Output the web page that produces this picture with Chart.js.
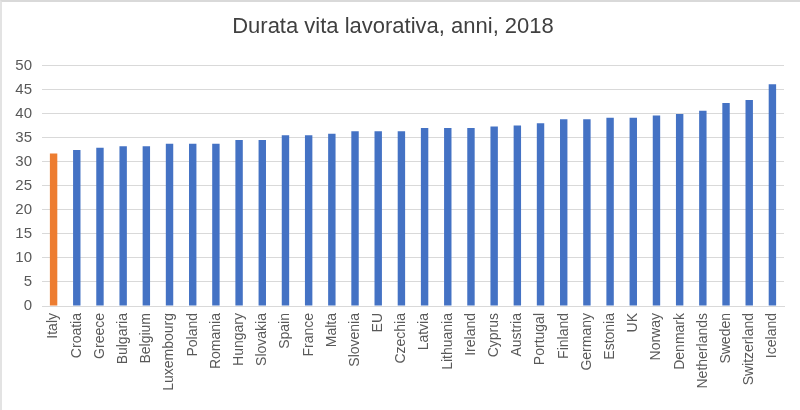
<!DOCTYPE html>
<html><head><meta charset="utf-8">
<script src="https://cdn.jsdelivr.net/npm/chart.js@4/dist/chart.umd.min.js"></script>
<style>
html,body{margin:0;padding:0;background:#fff;}
#wrap{position:absolute;left:0;top:0;width:800px;height:410px;box-sizing:border-box;border-top:2px solid #d9d9d9;border-left:2px solid #e3e3e3;}
canvas{display:block;}
</style></head>
<body><div id="wrap"><canvas id="c" width="798" height="408"></canvas></div>
<script>
const categories = ["Italy","Croatia","Greece","Bulgaria","Belgium","Luxembourg","Poland","Romania","Hungary","Slovakia","Spain","France","Malta","Slovenia","EU","Czechia","Latvia","Lithuania","Ireland","Cyprus","Austria","Portugal","Finland","Germany","Estonia","UK","Norway","Denmark","Netherlands","Sweden","Switzerland","Iceland"];
const values = [31.7,32.4,32.9,33.2,33.2,33.7,33.7,33.7,34.5,34.5,35.5,35.5,35.8,36.3,36.3,36.3,37.0,37.0,37.0,37.3,37.5,38.0,38.8,38.8,39.1,39.1,39.6,39.9,40.6,42.2,42.8,46.1];
const yTicks = [0,5,10,15,20,25,30,35,40,45,50];
const colors = categories.map(c => c === "Italy" ? "#ED7D31" : "#4472C4");

new Chart(document.getElementById('c'), {
  type: 'bar',
  data: { labels: categories, datasets: [{ data: values, backgroundColor: colors, barPercentage: 0.32, categoryPercentage: 1 }] },
  options: {
    responsive: false, animation: false,
    layout: { padding: { top: 0, right: 16, bottom: 0, left: 0 } },
    plugins: {
      legend: { display: false }, tooltip: { enabled: false },
      title: { display: true, text: 'Durata vita lavorativa, anni, 2018', color: '#404040',
        font: { family: 'Liberation Sans', size: 22, weight: 'normal' }, padding: { top: 12, bottom: 25 } }
    },
    scales: {
      x: {
        grid: { display: false, drawTicks: false },
        border: { display: true, color: '#d9d9d9' },
        ticks: { color: '#595959', font: { family: 'Liberation Sans', size: 14 }, maxRotation: 90, minRotation: 90, autoSkip: false, padding: 7 },
        afterFit: s => { s.height = 104; }
      },
      y: {
        min: 0, max: 50,
        afterBuildTicks: s => { s.ticks = yTicks.map(v => ({ value: v })); },
        grid: { color: '#d9d9d9', drawTicks: false },
        border: { display: false },
        ticks: { color: '#595959', font: { family: 'Liberation Sans', size: 15 }, padding: 10 },
        afterFit: s => { s.width = 40; }
      }
    }
  }
});
</script></body></html>
